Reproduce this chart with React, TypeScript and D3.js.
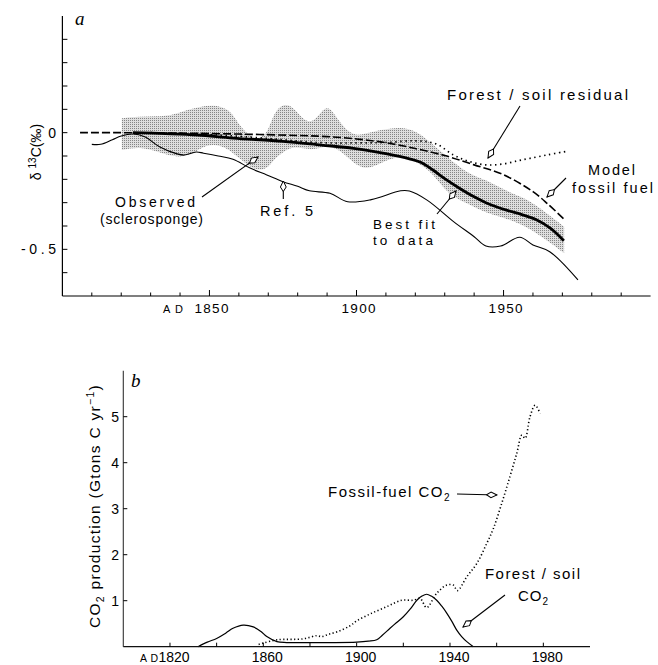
import React from 'react';
import * as d3 from 'd3';

// ---------- Panel a data (δ13C, per mil) ----------
const modelYears = [1806, 1820, 1840, 1860, 1880, 1890, 1900, 1910, 1920, 1930, 1940, 1950, 1960, 1965, 1970.5];
const modelFossil = [0, 0, -0.002, -0.006, -0.012, -0.017, -0.027, -0.043, -0.068, -0.098, -0.138, -0.18, -0.253, -0.305, -0.37];

const residualYears = [1830, 1850, 1870, 1888, 1900, 1910, 1920, 1927, 1933, 1938, 1944, 1950, 1955, 1959, 1965, 1971];
const residual = [0, -0.008, -0.025, -0.043, -0.044, -0.042, -0.035, -0.048, -0.096, -0.122, -0.138, -0.134, -0.12, -0.11, -0.095, -0.081];

const bestFitYears = [1824, 1835, 1846, 1858, 1875, 1888, 1899, 1910, 1918, 1922, 1926, 1930, 1935, 1940, 1944, 1951, 1956, 1961, 1966, 1970.5];
const bestFit = [0, -0.004, -0.01, -0.023, -0.037, -0.053, -0.067, -0.09, -0.112, -0.128, -0.16, -0.197, -0.238, -0.275, -0.3, -0.332, -0.35, -0.372, -0.41, -0.463];

const ref5Years = [1810, 1813, 1817, 1820, 1824, 1828, 1833, 1839, 1841.5, 1845.5, 1848, 1853, 1858, 1864, 1869.5, 1875, 1880, 1884, 1891, 1897, 1905, 1915, 1918, 1924, 1933, 1940, 1944, 1949, 1955.5, 1960, 1965.7, 1975.3];
const ref5 = [-0.05, -0.05, -0.03, -0.014, -0.006, -0.018, -0.06, -0.091, -0.096, -0.083, -0.088, -0.1, -0.114, -0.153, -0.181, -0.21, -0.23, -0.249, -0.26, -0.296, -0.287, -0.249, -0.25, -0.289, -0.381, -0.446, -0.486, -0.486, -0.448, -0.481, -0.51, -0.631];

const bandYears = [1820.2, 1826.4, 1832.1, 1837.7, 1842.3, 1846.8, 1851.3, 1855.9, 1858.1, 1860.4, 1864.9, 1869.5, 1871.7, 1875.1, 1878.5, 1881.9, 1885.3, 1888.7, 1891, 1894.4, 1898.9, 1903.5, 1908, 1914.8, 1920.5, 1926.1, 1930.7, 1937.5, 1944.3, 1951.1, 1957.9, 1964.7, 1970.6];
const bandUpper = [0.062, 0.069, 0.069, 0.076, 0.097, 0.111, 0.119, 0.104, 0.076, 0.026, -0.031, -0.017, 0.083, 0.126, 0.111, 0.054, 0.04, 0.104, 0.111, 0.04, -0.017, -0.003, 0.011, 0.026, 0.008, -0.053, -0.103, -0.174, -0.203, -0.253, -0.281, -0.346, -0.403];
const bandLower = [-0.074, -0.06, -0.081, -0.103, -0.103, -0.067, -0.046, -0.067, -0.089, -0.11, -0.16, -0.16, -0.117, -0.081, -0.06, -0.067, -0.074, -0.06, -0.06, -0.074, -0.131, -0.16, -0.131, -0.096, -0.125, -0.174, -0.26, -0.303, -0.346, -0.367, -0.403, -0.46, -0.517];

const aXTicks = d3.range(1810, 2000, 10);
const aXLabels = [1850, 1900, 1950];
const aYTicks = d3.range(-6, 5).map((d) => d / 10);
const aYLabels = [{ v: 0, t: '0' }, { v: -0.5, t: '-0.5' }];

// ---------- Panel b data (Gtons C / yr) ----------
const fossilYears = [1858, 1860, 1866, 1877, 1883, 1885, 1888, 1892, 1897, 1900, 1905.7, 1912.9, 1919.3, 1924.3, 1927.2, 1930, 1934.3, 1938.6, 1941.4, 1943.2, 1947.2, 1951.5, 1955.8, 1958.6, 1962.2, 1965.7, 1968.6, 1970.8, 1972.2, 1974.3, 1976.5, 1978.6];
const fossilCO2 = [0.05, 0.08, 0.15, 0.17, 0.24, 0.22, 0.27, 0.33, 0.45, 0.56, 0.71, 0.87, 1.01, 1.01, 1.05, 0.85, 1.16, 1.34, 1.34, 1.22, 1.52, 1.81, 2.25, 2.57, 3.12, 3.7, 4.2, 4.6, 4.53, 5.0, 5.25, 5.07];

const forestYears = [1832, 1836, 1840, 1844, 1847, 1851.4, 1855.7, 1859, 1861.5, 1865.8, 1870, 1880, 1890, 1900, 1905, 1908.6, 1911, 1914.3, 1917, 1920, 1923, 1925.8, 1928, 1930, 1932, 1934.3, 1936.5, 1938.6, 1940.8, 1942.9, 1945, 1947.2, 1950];
const forestCO2 = [0, 0.1, 0.18, 0.3, 0.4, 0.47, 0.43, 0.33, 0.22, 0.11, 0.09, 0.09, 0.09, 0.1, 0.12, 0.15, 0.25, 0.4, 0.52, 0.65, 0.82, 1.01, 1.1, 1.14, 1.1, 1.01, 0.88, 0.73, 0.55, 0.36, 0.22, 0.11, 0];

const bXTicks = d3.range(1820, 2000, 20);
const bXLabels = [1820, 1860, 1900, 1940, 1980];
const bYTicks = [1, 2, 3, 4, 5];

const FONT = "'Liberation Sans', Arial, Helvetica, sans-serif";
const SERIF = "'Liberation Serif', 'Times New Roman', serif";

const zip = (xs: number[], ys: number[]) => xs.map((x, i) => [x, ys[i]] as [number, number]);

export default function App() {
  // scales panel a
  const xA = d3.scaleLinear().domain([1800, 2000]).range([62.4, 650.6]);
  const yA = d3.scaleLinear().domain([-0.7, 0.5]).range([296, 16]);
  // scales panel b
  const xB = d3.scaleLinear().domain([1800, 2000]).range([123.3, 590]);
  const yB = d3.scaleLinear().domain([0, 6]).range([646.7, 370.7]);

  const lineA = d3
    .line<[number, number]>()
    .x((d) => xA(d[0]))
    .y((d) => yA(d[1]))
    .curve(d3.curveCatmullRom.alpha(0.5));
  const lineB = d3
    .line<[number, number]>()
    .x((d) => xB(d[0]))
    .y((d) => yB(d[1]))
    .curve(d3.curveCatmullRom.alpha(0.5));
  const bandArea = d3
    .area<number>()
    .x((_, i) => xA(bandYears[i]))
    .y0((_, i) => yA(bandLower[i]))
    .y1((_, i) => yA(bandUpper[i]))
    .curve(d3.curveBasis);

  const arrows: [number, number, number, number][] = [
    [202, 197, 258, 157],
    [283.3, 199, 283.3, 181],
    [520, 106, 488, 158],
    [566, 178, 547, 197],
    [437, 214, 456, 191],
    [457, 494, 497, 495],
    [505, 595, 463, 627],
  ];

  return (
    <svg
      width={658}
      height={665}
      style={{ position: 'absolute', left: 0, top: 0, background: '#fff' }}
      fontFamily={FONT}
    >
      <defs>
        <pattern id="stip" width={2} height={2} patternUnits="userSpaceOnUse">
          <rect width={2} height={2} fill="#dedede" />
          <rect width={1} height={1} fill="#858585" />
        </pattern>
        <marker
          id="ah"
          viewBox="-12 -4 13 8"
          refX={0}
          refY={0}
          markerWidth={13}
          markerHeight={8}
          markerUnits="userSpaceOnUse"
          orient="auto"
        >
          <path d="M0,0 L-6,-2.9 L-10.5,0 L-6,2.9 Z" fill="#fff" stroke="#000" strokeWidth={1} />
        </marker>
      </defs>
      <rect width={658} height={665} fill="#fff" />

      {/* ================= Panel a ================= */}
      <path d={bandArea(bandYears) || ''} fill="url(#stip)" />
      <path d={lineA(zip(ref5Years, ref5)) || ''} fill="none" stroke="#000" strokeWidth={1.1} />
      <path
        d={lineA(zip(residualYears, residual)) || ''}
        fill="none"
        stroke="#000"
        strokeWidth={1.7}
        strokeDasharray="1.4 3.6"
      />
      <path
        d={lineA(zip(modelYears, modelFossil)) || ''}
        fill="none"
        stroke="#000"
        strokeWidth={1.6}
        strokeDasharray="8 3"
      />
      <path d={lineA(zip(bestFitYears, bestFit)) || ''} fill="none" stroke="#000" strokeWidth={2.8} />

      {/* axes a */}
      <line x1={xA(1800)} x2={xA(1800)} y1={yA(0.5)} y2={yA(-0.7)} stroke="#000" strokeWidth={1.2} />
      <line x1={xA(1800)} x2={xA(2000)} y1={yA(-0.7)} y2={yA(-0.7)} stroke="#000" strokeWidth={1.2} />
      {aYTicks.map((t) => (
        <line key={'ay' + t} x1={xA(1800)} x2={xA(1800) + 5} y1={yA(t)} y2={yA(t)} stroke="#000" strokeWidth={1} />
      ))}
      {aXTicks.map((t) => (
        <line
          key={'ax' + t}
          x1={xA(t)}
          x2={xA(t)}
          y1={yA(-0.7)}
          y2={yA(-0.7) - (aXLabels.includes(t) ? 6 : 3.5)}
          stroke="#000"
          strokeWidth={1}
        />
      ))}
      {aYLabels.map((l) => (
        <text
          key={'ayl' + l.v}
          x={56}
          y={yA(l.v) + 5}
          textAnchor="end"
          fontSize={14}
          textLength={l.t.length > 1 ? 35 : undefined}
          lengthAdjust="spacing"
        >
          {l.t}
        </text>
      ))}
      {aXLabels.map((t) => (
        <text key={'axl' + t} x={xA(t) + 2 - 17} y={313} fontSize={13.5} textLength={34} lengthAdjust="spacing">
          {t}
        </text>
      ))}
      <text x={163} y={313} fontSize={11} textLength={20} lengthAdjust="spacing">
        AD
      </text>
      <text transform="translate(41,152) rotate(-90)" textAnchor="middle" fontSize={14}>
        <tspan>δ </tspan>
        <tspan fontSize={10} dy={-5}>13</tspan>
        <tspan dy={5}>C(‰)</tspan>
      </text>
      <text x={75} y={25} fontFamily={SERIF} fontStyle="italic" fontSize={19}>
        a
      </text>

      {/* annotations a */}
      <text x={447} y={100} fontSize={15} textLength={181} lengthAdjust="spacing">
        Forest / soil residual
      </text>
      <text x={588} y={175} fontSize={14.5} textLength={47} lengthAdjust="spacing">
        Model
      </text>
      <text x={572} y={193} fontSize={14.5} textLength={81} lengthAdjust="spacing">
        fossil fuel
      </text>
      <text x={373} y={228.5} fontSize={13.5} textLength={62} lengthAdjust="spacing">
        Best fit
      </text>
      <text x={373} y={245} fontSize={13.5} textLength={60} lengthAdjust="spacing">
        to data
      </text>
      <text x={115} y={207} fontSize={14} textLength={80} lengthAdjust="spacing">
        Observed
      </text>
      <text x={100} y={224} fontSize={14} textLength={103} lengthAdjust="spacing">
        (sclerosponge)
      </text>
      <text x={260} y={216} fontSize={14.5} textLength={53} lengthAdjust="spacing">
        Ref. 5
      </text>

      {/* ================= Panel b ================= */}
      <path d={lineB(zip(forestYears, forestCO2)) || ''} fill="none" stroke="#000" strokeWidth={1.2} />
      <path
        d={lineB(zip(fossilYears, fossilCO2)) || ''}
        fill="none"
        stroke="#000"
        strokeWidth={1.6}
        strokeDasharray="1.2 2.4"
      />
      <line x1={xB(1800)} x2={xB(1800)} y1={yB(6)} y2={yB(0)} stroke="#333" strokeWidth={1.1} />
      <line x1={xB(1800)} x2={xB(2000)} y1={yB(0)} y2={yB(0)} stroke="#111" strokeWidth={1.2} />
      {bYTicks.map((t) => (
        <g key={'by' + t}>
          <line x1={xB(1800)} x2={xB(1800) + 4} y1={yB(t)} y2={yB(t)} stroke="#000" strokeWidth={1} />
          <text x={119} y={yB(t) + 5} textAnchor="end" fontSize={14}>
            {t}
          </text>
        </g>
      ))}
      {bXTicks.map((t) => (
        <line key={'bx' + t} x1={xB(t)} x2={xB(t)} y1={yB(0)} y2={yB(0) - 4} stroke="#000" strokeWidth={1} />
      ))}
      {bXLabels.map((t) => (
        <text key={'bxl' + t} x={xB(t) + 4} y={661.5} textAnchor="middle" fontSize={14}>
          {t}
        </text>
      ))}
      <text x={140} y={661.5} fontSize={10.5} textLength={18} lengthAdjust="spacing">
        AD
      </text>
      <text
        transform="translate(100,506) rotate(-90)"
        textAnchor="middle"
        fontSize={15.5}
        letterSpacing={1.3}
      >
        <tspan>CO</tspan>
        <tspan fontSize={10.5} dy={4}>2</tspan>
        <tspan dy={-4}> production (Gtons C yr</tspan>
        <tspan fontSize={10.5} dy={-6}>−1</tspan>
        <tspan dy={6}>)</tspan>
      </text>
      <text x={131} y={387} fontFamily={SERIF} fontStyle="italic" fontSize={19}>
        b
      </text>

      {/* annotations b */}
      <text x={328} y={497} fontSize={15} letterSpacing={1.5}>
        <tspan>Fossil-fuel CO</tspan>
        <tspan fontSize={10} dy={4}>2</tspan>
      </text>
      <text x={485} y={579} fontSize={15} textLength={95} lengthAdjust="spacing">
        Forest / soil
      </text>
      <text x={518} y={601} fontSize={15} letterSpacing={1}>
        <tspan>CO</tspan>
        <tspan fontSize={10} dy={4}>2</tspan>
      </text>

      {/* arrows */}
      {arrows.map(([x1, y1, x2, y2], i) => (
        <line key={'ar' + i} x1={x1} y1={y1} x2={x2} y2={y2} stroke="#000" strokeWidth={1.1} markerEnd="url(#ah)" />
      ))}
    </svg>
  );
}
